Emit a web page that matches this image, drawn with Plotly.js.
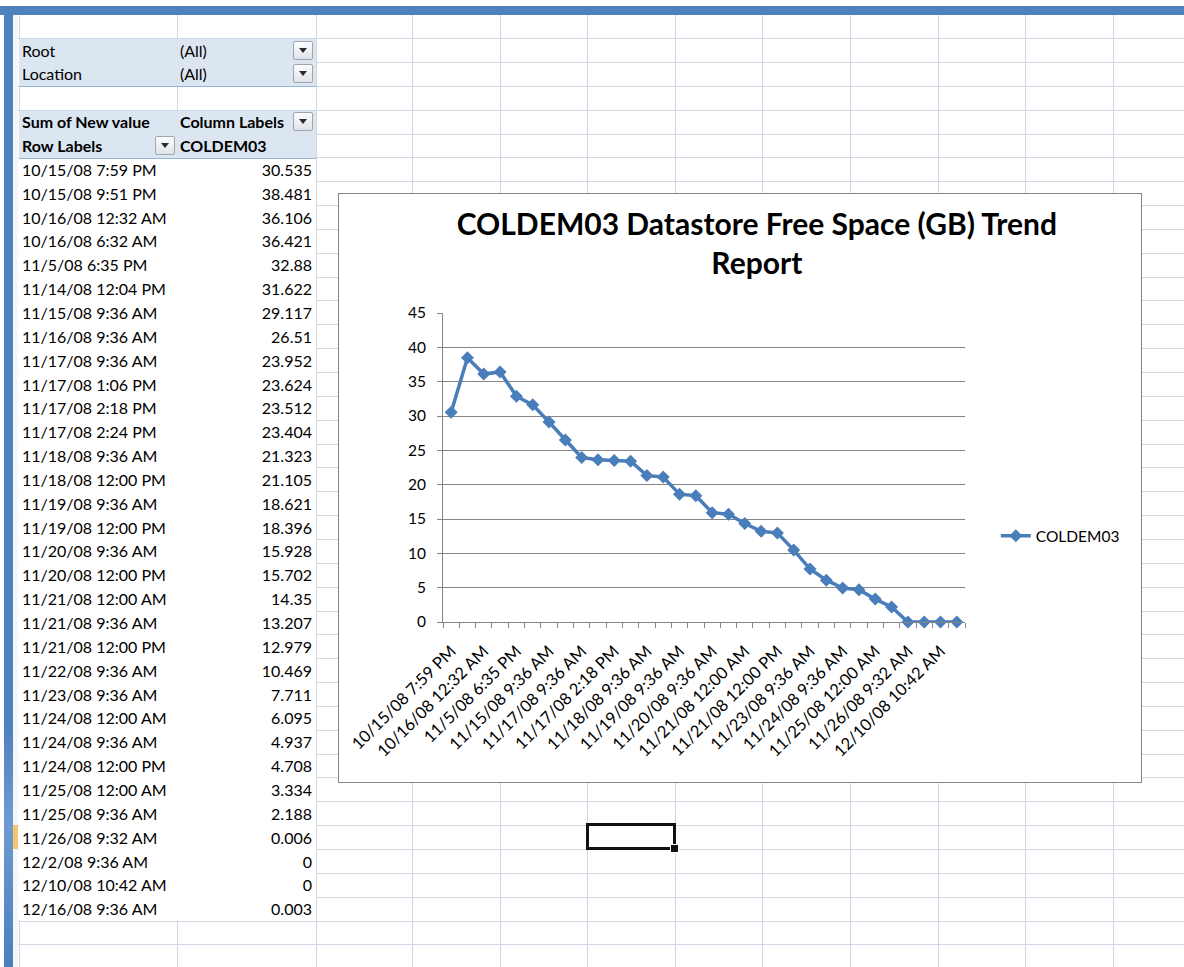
<!DOCTYPE html>
<html><head><meta charset="utf-8">
<script src="https://cdn.plot.ly/plotly-3.0.1.min.js"></script>
<style>
html,body{margin:0;padding:0;background:#fff;width:1184px;height:967px;overflow:hidden;font-family:Lato,"Open Sans",sans-serif;}
.abs{position:absolute;}
.txt{position:absolute;font-size:16px;color:#000;white-space:nowrap;line-height:24px;height:24px;}
.b{font-weight:bold;}
.dd{position:absolute;width:20px;height:19px;box-sizing:border-box;border:1px solid #9da7b4;border-radius:2px;background:linear-gradient(#fdfdfd,#dfe3e8);}
.dd:after{content:"";position:absolute;left:5px;top:6px;border-left:4px solid transparent;border-right:4px solid transparent;border-top:5px solid #2b2b2b;}
</style></head>
<body>
<div id="sheet" class="abs" style="left:0;top:0;width:1184px;height:967px;"></div>
<div id="chartbox" class="abs" style="left:338px;top:193px;width:802px;height:588px;border:1px solid #868686;background:#fff;">
  <div id="chart" style="width:802px;height:588px;"></div>
</div>
<div id="over" class="abs" style="left:0;top:0;width:0;height:0;"></div>
<script>
// ---------------- data ----------------
const categories = [
  "10/15/08 7:59 PM","10/15/08 9:51 PM","10/16/08 12:32 AM","10/16/08 6:32 AM",
  "11/5/08 6:35 PM","11/14/08 12:04 PM","11/15/08 9:36 AM","11/16/08 9:36 AM",
  "11/17/08 9:36 AM","11/17/08 1:06 PM","11/17/08 2:18 PM","11/17/08 2:24 PM",
  "11/18/08 9:36 AM","11/18/08 12:00 PM","11/19/08 9:36 AM","11/19/08 12:00 PM",
  "11/20/08 9:36 AM","11/20/08 12:00 PM","11/21/08 12:00 AM","11/21/08 9:36 AM",
  "11/21/08 12:00 PM","11/22/08 9:36 AM","11/23/08 9:36 AM","11/24/08 12:00 AM",
  "11/24/08 9:36 AM","11/24/08 12:00 PM","11/25/08 12:00 AM","11/25/08 9:36 AM",
  "11/26/08 9:32 AM","12/2/08 9:36 AM","12/10/08 10:42 AM","12/16/08 9:36 AM"
];
const freeSpaceGB = [
  30.535, 38.481, 36.106, 36.421,
  32.88, 31.622, 29.117, 26.51,
  23.952, 23.624, 23.512, 23.404,
  21.323, 21.105, 18.621, 18.396,
  15.928, 15.702, 14.35, 13.207,
  12.979, 10.469, 7.711, 6.095,
  4.937, 4.708, 3.334, 2.188,
  0.006, 0, 0, 0.003
];
const seriesName = "COLDEM03";
const filterFields = ["Root", "Location"];
const filterValues = ["(All)", "(All)"];
const pivotHeaders = ["Sum of New value", "Column Labels", "Row Labels", "COLDEM03"];
const chartTitle = "COLDEM03 Datastore Free Space (GB) Trend<br>Report";
const yTickValues = [0, 5, 10, 15, 20, 25, 30, 35, 40, 45];

// ---------------- spreadsheet backdrop ----------------
const sheet = document.getElementById('sheet');
const over = document.getElementById('over');
function box(parent, l, t, w, h, css) {
  const d = document.createElement('div');
  d.className = 'abs';
  d.style.cssText = `left:${l}px;top:${t}px;width:${w}px;height:${h}px;` + (css || '');
  parent.appendChild(d);
  return d;
}
function text(parent, l, top, str, cls, align) {
  const d = document.createElement('div');
  d.className = 'txt ' + (cls || '');
  d.textContent = str;
  if (align === 'right') { d.style.right = (1184 - l) + 'px'; } else { d.style.left = l + 'px'; }
  d.style.top = top + 'px';
  parent.appendChild(d);
  return d;
}
const ROW0 = 38.1, RH = 23.85;
const rowTop = k => ROW0 + k * RH;
const colX = [19, 177, 316, 412, 500, 587, 675, 762, 850, 938, 1025, 1113];
const gridCol = '#d0d7e5';
for (let k = -1; k <= 39; k++) box(sheet, 13, Math.round(rowTop(k)), 1171, 1, 'background:' + gridCol);
colX.forEach(x => box(sheet, x, 15, 1, 952, 'background:' + gridCol));
box(sheet, 13, 15, 5, 952, 'background:#f4f6f9;');
box(sheet, 13, Math.round(rowTop(33)), 5, Math.round(RH), 'background:#f7c56c;');
box(sheet, 19, Math.round(rowTop(0)) + 1, 297, Math.round(2 * RH) - 1, 'background:#dce6f1;border-bottom:1px solid #95b3d7;');
box(sheet, 19, Math.round(rowTop(3)) + 1, 297, Math.round(2 * RH) - 1, 'background:#dce6f1;border-bottom:1px solid #95b3d7;');
const nRows = categories.length;
box(sheet, 19, Math.round(rowTop(5)) + 2, 297, Math.round(nRows * RH) - 2, 'background:#fff;');

filterFields.forEach((f, i) => {
  const t = rowTop(i) + 0.5;
  text(sheet, 22, t, f);
  text(sheet, 180, t, filterValues[i]);
  box(sheet, 293, Math.round(t) + 2, 20, 19, '').className = 'dd';
});
text(sheet, 22, rowTop(3) + 0.5, pivotHeaders[0], 'b');
text(sheet, 180, rowTop(3) + 0.5, pivotHeaders[1], 'b');
box(sheet, 293, Math.round(rowTop(3)) + 2, 20, 19, '').className = 'dd';
text(sheet, 22, rowTop(4) + 0.5, pivotHeaders[2], 'b');
text(sheet, 180, rowTop(4) + 0.5, pivotHeaders[3], 'b');
box(sheet, 155, Math.round(rowTop(4)) + 2, 20, 19, '').className = 'dd';
categories.forEach((c, i) => {
  const t = rowTop(5 + i) + 0.5;
  text(sheet, 22, t, c);
  text(sheet, 312, t, String(freeSpaceGB[i]), '', 'right');
});
box(over, 586, 823, 84, 21, 'border:3px solid #111;');
box(over, 670, 844, 7, 7, 'background:#111;border:1px solid #fff;');
box(over, 0, 6, 1184, 9, 'background:#4f81bd;');
box(over, 4, 6, 9, 961, 'background:linear-gradient(#4f81bd 0%,#4f81bd 75%,#6f9bd0 85%,#4a7fbf 100%);');

// ---------------- chart ----------------
const idx = categories.map((_, i) => i);
const labelIdx = idx.filter(i => i % 2 === 0);
const boundaries = idx.map(i => i - 0.5).concat([categories.length - 0.5]);
const axisGray = '#868686';

const trace = {
  type: 'scatter', mode: 'lines+markers',
  x: idx, y: freeSpaceGB, text: categories, name: seriesName,
  line: {color: '#4a7ebb', width: 3.5},
  marker: {symbol: 'diamond', size: 10, color: '#4a7ebb'},
  cliponaxis: false,
  hovertemplate: '%{text}: %{y}<extra></extra>'
};
const layout = {
  width: 802, height: 588,
  margin: {l: 104, r: 176, t: 119, b: 160},
  paper_bgcolor: '#fff', plot_bgcolor: '#fff',
  font: {family: 'Lato, sans-serif', color: '#000', size: 15},
  showlegend: true,
  title: {
    text: chartTitle, xref: 'container', yref: 'container',
    x: 0.521, xanchor: 'center', y: 0.930, yanchor: 'top',
    font: {size: 30, family: 'Lato, sans-serif', weight: 'bold', color: '#000'}
  },
  xaxis: {
    range: [-0.5, categories.length - 0.5],
    tickmode: 'array', tickvals: labelIdx, ticktext: labelIdx.map(i => categories[i]),
    tickangle: -45, ticks: '', showline: true, linecolor: axisGray, linewidth: 1,
    showgrid: false, zeroline: false, tickfont: {size: 16.5}, ticklabelstandoff: 12,
    minor: {tickmode: 'array', tickvals: boundaries, ticks: 'outside', ticklen: 5, tickcolor: axisGray, tickwidth: 1, showgrid: false},
    fixedrange: true
  },
  yaxis: {
    range: [0, 45], tickmode: 'array', tickvals: yTickValues,
    ticks: 'outside', ticklen: 5, tickcolor: axisGray,
    showline: true, linecolor: axisGray, linewidth: 1,
    showgrid: true, gridcolor: axisGray, gridwidth: 1, zeroline: false,
    tickfont: {size: 15.5}, ticklabelstandoff: 8, fixedrange: true
  },
  legend: {x: 1.059, xanchor: 'left', y: 0.278, yanchor: 'middle', font: {size: 15.5}, bgcolor: 'rgba(0,0,0,0)'}
};
Plotly.newPlot('chart', [trace], layout, {displayModeBar: false, staticPlot: true});
</script>
</body></html>
